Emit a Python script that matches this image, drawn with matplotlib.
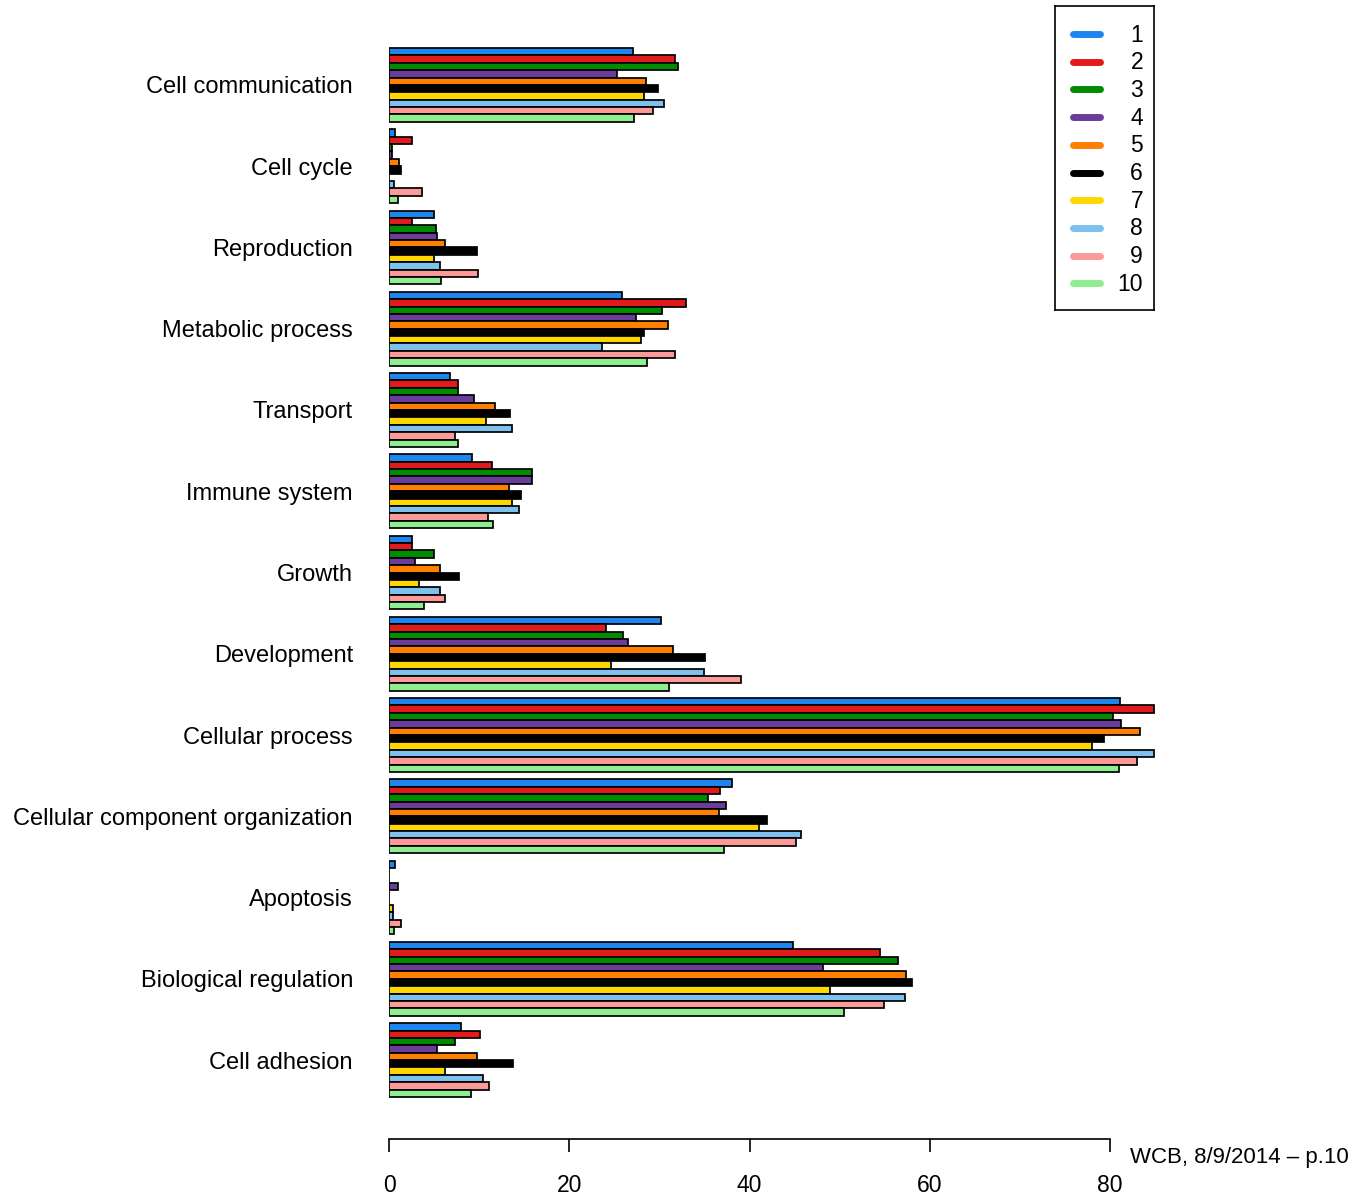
import numpy as np
import matplotlib
matplotlib.use('Agg')
import matplotlib.pyplot as plt

plt.rcParams['font.family'] = ['Liberation Sans', 'DejaVu Sans']

categories = ['Cell communication', 'Cell cycle', 'Reproduction', 'Metabolic process',
              'Transport', 'Immune system', 'Growth', 'Development', 'Cellular process',
              'Cellular component organization', 'Apoptosis', 'Biological regulation',
              'Cell adhesion']
series = ['1', '2', '3', '4', '5', '6', '7', '8', '9', '10']
colors = ['#1C86EE', '#E31A1C', '#008B00', '#6A3D9A', '#FF7F00',
          '#000000', '#FFD700', '#7EC0EE', '#FB9A99', '#90EE90']

# one row per category, one column per series 1..10
cell_comm   = [27.1, 31.7, 32.1, 25.3, 28.5, 29.8, 28.3, 30.5, 29.3, 27.2]
cell_cycle  = [0.7, 2.6, 0.35, 0.35, 1.1, 1.3, 0.0, 0.5, 3.7, 1.0]
reproduct   = [5.0, 2.6, 5.25, 5.35, 6.2, 9.75, 4.95, 5.65, 9.85, 5.8]
metabolic   = [25.85, 32.95, 30.25, 27.4, 31.0, 28.25, 27.95, 23.65, 31.75, 28.65]
transport   = [6.8, 7.65, 7.65, 9.4, 11.75, 13.4, 10.75, 13.7, 7.35, 7.7]
immune      = [9.25, 11.45, 15.9, 15.9, 13.3, 14.6, 13.6, 14.45, 11.0, 11.5]
growth      = [2.5, 2.5, 4.95, 2.85, 5.65, 7.75, 3.35, 5.65, 6.2, 3.85]
development = [30.15, 24.1, 26.0, 26.5, 31.55, 35.05, 24.65, 34.9, 39.1, 31.05]
cellular    = [81.1, 84.9, 80.3, 81.2, 83.3, 79.3, 78.0, 84.9, 83.0, 81.0]
cco         = [38.1, 36.75, 35.45, 37.4, 36.6, 41.9, 41.05, 45.7, 45.2, 37.2]
apoptosis   = [0.7, 0.0, 0.0, 1.0, 0.0, 0.0, 0.45, 0.45, 1.3, 0.5]
bio_reg     = [44.85, 54.5, 56.5, 48.2, 57.4, 58.0, 48.9, 57.3, 54.9, 50.5]
adhesion    = [8.0, 10.15, 7.35, 5.3, 9.75, 13.8, 6.2, 10.45, 11.05, 9.15]

values = np.array([cell_comm, cell_cycle, reproduct, metabolic, transport, immune,
                   growth, development, cellular, cco, apoptosis, bio_reg, adhesion])

W, H = 1367, 1198
fig = plt.figure(figsize=(W / 100, H / 100), dpi=100)

# main panel (pixel layout of the reference)
x0, x1, ytop, ybot = 389, 1160, 40, 1139
bar_px = (1097 - 48) / 142.0
px_per_unit = (1110 - 389) / 80.0
ax = fig.add_axes([x0 / W, 1 - ybot / H, (x1 - x0) / W, (ybot - ytop) / H])

n_cat, n_ser = values.shape
group = n_ser + 1
for j in range(n_ser):
    ypos = np.arange(n_cat) * group + j + 0.5
    ax.barh(ypos, values[:, j], height=1.0, color=colors[j],
            edgecolor='black', linewidth=1.25)

ax.set_xlim(0, (x1 - x0) / px_per_unit)
ax.set_ylim((ybot - 48) / bar_px, -(48 - ytop) / bar_px)

ax.set_yticks(np.arange(n_cat) * group + n_ser / 2)
ax.set_yticklabels(categories, fontsize=17)
ax.tick_params(axis='y', length=0, pad=26)

ax.set_xticks([0, 20, 40, 60, 80])
ax.tick_params(axis='x', length=9.5, width=1.2, labelsize=16.5, pad=15.5)
for s in ['left', 'top', 'right']:
    ax.spines[s].set_visible(False)
ax.spines['bottom'].set_bounds(0, 80)
ax.spines['bottom'].set_linewidth(1.2)

fig.text(1130 / W, 1 - 1163 / H, 'WCB, 8/9/2014 \u2013 p.10', fontsize=16,
         ha='left', va='baseline')

# legend box
lx0, lx1, ly0, ly1 = 1055, 1154, 6, 310
lax = fig.add_axes([lx0 / W, 1 - ly1 / H, (lx1 - lx0) / W, (ly1 - ly0) / H])
lax.set_xlim(0, lx1 - lx0)
lax.set_ylim(ly1 - ly0, 0)
lax.set_xticks([])
lax.set_yticks([])
for s in lax.spines.values():
    s.set_linewidth(1.2)
row_y = 28 + 27.7 * np.arange(n_ser)
for j in range(n_ser):
    lax.plot([18, 45], [row_y[j], row_y[j]], color=colors[j], linewidth=5,
             solid_capstyle='round')
    lax.text(88, row_y[j] + 1, series[j], fontsize=16.5, ha='right', va='center')

fig.savefig('out.png', dpi=100)
